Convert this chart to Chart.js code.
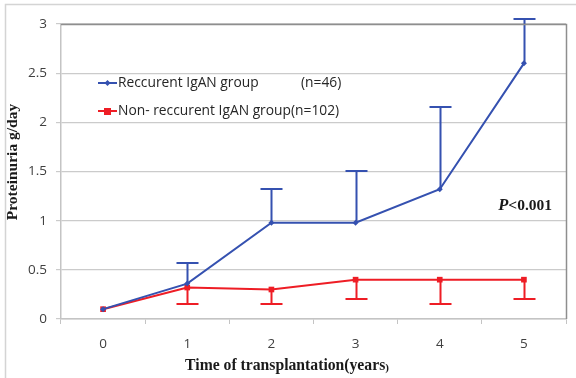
<!DOCTYPE html>
<html>
<head>
<meta charset="utf-8">
<script src="https://cdn.jsdelivr.net/npm/chart.js@4/dist/chart.umd.min.js"></script>
<style>
  html, body { margin: 0; padding: 0; background: #fff; }
  #wrap { position: relative; width: 576px; height: 378px; }
</style>
</head>
<body>
<div id="wrap"><canvas id="c" width="576" height="378"></canvas></div>
<script>
// Years after transplantation
const years = ['0', '1', '2', '3', '4', '5'];

// Recurrent IgAN group: mean proteinuria (g/day) and upper error bar end
const recurrent = [0.1, 0.36, 0.98, 0.98, 1.32, 2.6];
const recurrentUpper = [null, 0.57, 1.32, 1.51, 2.16, 3.05];

// Non-recurrent IgAN group: mean proteinuria (g/day) and lower error bar end
const nonRecurrent = [0.1, 0.32, 0.30, 0.40, 0.40, 0.40];
const nonRecurrentLower = [null, 0.15, 0.15, 0.20, 0.15, 0.20];

const labelRecurrent = 'Reccurent IgAN group';
const labelRecurrentN = '(n=46)';
const labelNonRecurrent = 'Non- reccurent IgAN group(n=102)';
const pValueText = '<0.001';
const xTitle = 'Time of transplantation(years';
const yTitle = 'Proteinuria g/day';

const BLUE = '#3551b0';
const RED = '#ee1d25';
const SANS = '"Open Sans", "Liberation Sans", sans-serif';
const SERIF = '"Liberation Serif", "DejaVu Serif", serif';

// Error bars: blue extends upward, red extends downward
const errorBars = {
  id: 'errorBars',
  afterDatasetsDraw(chart) {
    const ctx = chart.ctx;
    const x = chart.scales.x, y = chart.scales.y;
    const draw = (vals, ends, color) => {
      ctx.save();
      ctx.strokeStyle = color;
      ctx.lineWidth = 2;
      vals.forEach((v, i) => {
        if (ends[i] == null) return;
        const px = Math.round(x.getPixelForValue(i)) + 0.5;
        const p0 = y.getPixelForValue(v);
        const p1 = Math.round(y.getPixelForValue(ends[i]));
        ctx.beginPath();
        ctx.moveTo(px, p0);
        ctx.lineTo(px, p1);
        ctx.moveTo(px - 11, p1);
        ctx.lineTo(px + 11, p1);
        ctx.stroke();
      });
      ctx.restore();
    };
    draw(nonRecurrent, nonRecurrentLower, RED);
    draw(recurrent, recurrentUpper, BLUE);
  }
};

// Frame, plot border, legend, axis titles and p-value note
const decorations = {
  id: 'decorations',
  beforeDraw(chart) {
    const ctx = chart.ctx;
    ctx.save();
    ctx.strokeStyle = '#d4d4d4';
    ctx.lineWidth = 1.5;
    ctx.beginPath();
    ctx.moveTo(5.5, 400);
    ctx.lineTo(5.5, 4.5);
    ctx.lineTo(600, 4.5);
    ctx.stroke();
    ctx.restore();
  },
  afterDraw(chart) {
    const ctx = chart.ctx;
    const a = chart.chartArea;
    ctx.save();
    // top and right border of the plot area
    ctx.strokeStyle = '#8e8e8e';
    ctx.lineWidth = 1.5;
    ctx.beginPath();
    ctx.moveTo(a.left, a.top + 0.5);
    ctx.lineTo(a.right + 0.5, a.top + 0.5);
    ctx.lineTo(a.right + 0.5, a.bottom);
    ctx.stroke();

    // legend
    ctx.font = '13.8px ' + SANS;
    ctx.textBaseline = 'middle';
    // recurrent row
    ctx.strokeStyle = BLUE; ctx.lineWidth = 2;
    ctx.beginPath(); ctx.moveTo(98, 83); ctx.lineTo(117, 83); ctx.stroke();
    ctx.fillStyle = BLUE;
    ctx.beginPath();
    ctx.moveTo(107.5, 80); ctx.lineTo(110.5, 83); ctx.lineTo(107.5, 86); ctx.lineTo(104.5, 83);
    ctx.closePath(); ctx.fill();
    ctx.fillStyle = '#262626';
    ctx.textAlign = 'left';
    ctx.fillText(labelRecurrent, 118, 83);
    ctx.fillText(labelRecurrentN, 301, 83);
    // non-recurrent row
    ctx.strokeStyle = RED;
    ctx.beginPath(); ctx.moveTo(98, 111); ctx.lineTo(117, 111); ctx.stroke();
    ctx.fillStyle = RED;
    ctx.fillRect(104, 108, 7, 7);
    ctx.fillStyle = '#262626';
    ctx.fillText(labelNonRecurrent, 118, 111);

    // p-value
    ctx.fillStyle = '#1a1a1a';
    ctx.textAlign = 'left';
    ctx.font = 'italic bold 16.5px ' + SERIF;
    const pW = ctx.measureText('P').width;
    ctx.font = 'bold 15.5px ' + SERIF;
    const restW = ctx.measureText(pValueText).width;
    const pStart = 552 - pW - restW;
    ctx.font = 'italic bold 16.5px ' + SERIF;
    ctx.fillText('P', pStart, 206);
    ctx.font = 'bold 15.5px ' + SERIF;
    ctx.fillText(pValueText, pStart + pW, 206);

    // x axis title, closing parenthesis set smaller
    ctx.font = 'bold 15.7px ' + SERIF;
    const xw = ctx.measureText(xTitle).width;
    ctx.font = 'bold 11px ' + SERIF;
    const pw = ctx.measureText(')').width;
    const xs = 287 - (xw + pw) / 2;
    ctx.font = 'bold 15.7px ' + SERIF;
    ctx.fillText(xTitle, xs, 366);
    ctx.font = 'bold 11px ' + SERIF;
    ctx.fillText(')', xs + xw, 368);

    // y axis title
    ctx.translate(13, 162);
    ctx.rotate(-Math.PI / 2);
    ctx.textAlign = 'center';
    ctx.font = 'bold 15.5px ' + SERIF;
    ctx.fillText(yTitle, 0, 0);
    ctx.restore();
  }
};

new Chart(document.getElementById('c'), {
  type: 'line',
  data: {
    labels: years,
    datasets: [
      {
        label: labelRecurrent,
        data: recurrent,
        borderColor: BLUE,
        backgroundColor: BLUE,
        borderWidth: 2,
        pointStyle: 'rectRot',
        pointRadius: 3,
        pointBorderWidth: 0,
        tension: 0
      },
      {
        label: labelNonRecurrent,
        data: nonRecurrent,
        borderColor: RED,
        backgroundColor: RED,
        borderWidth: 2,
        pointStyle: 'rect',
        pointRadius: 4,
        pointBorderWidth: 0,
        tension: 0
      }
    ]
  },
  options: {
    responsive: false,
    animation: false,
    devicePixelRatio: 1,
    layout: { padding: { left: 0, right: 10, top: 24, bottom: 0 } },
    plugins: {
      legend: { display: false },
      tooltip: { enabled: false },
      title: { display: false }
    },
    scales: {
      x: {
        offset: true,
        grid: {
          offset: true,
          drawOnChartArea: false,
          color: '#c4c4c4',
          tickLength: 5
        },
        border: { color: '#c4c4c4', width: 1.5 },
        ticks: {
          color: '#404040',
          font: { family: SANS, size: 13.5 },
          padding: 12,
          maxRotation: 0
        },
        afterFit(scale) { scale.height = 59; }
      },
      y: {
        min: 0,
        max: 3,
        ticks: {
          stepSize: 0.5,
          color: '#404040',
          font: { family: SANS, size: 13.5 },
          padding: 9,
          callback: (v) => String(+v.toFixed(1))
        },
        grid: {
          color: '#cbcbcb',
          lineWidth: 1.2,
          tickLength: 5
        },
        border: { color: '#c4c4c4', width: 1.5 },
        afterFit(scale) { scale.width = 61; }
      }
    }
  },
  plugins: [errorBars, decorations]
});
</script>
</body>
</html>
